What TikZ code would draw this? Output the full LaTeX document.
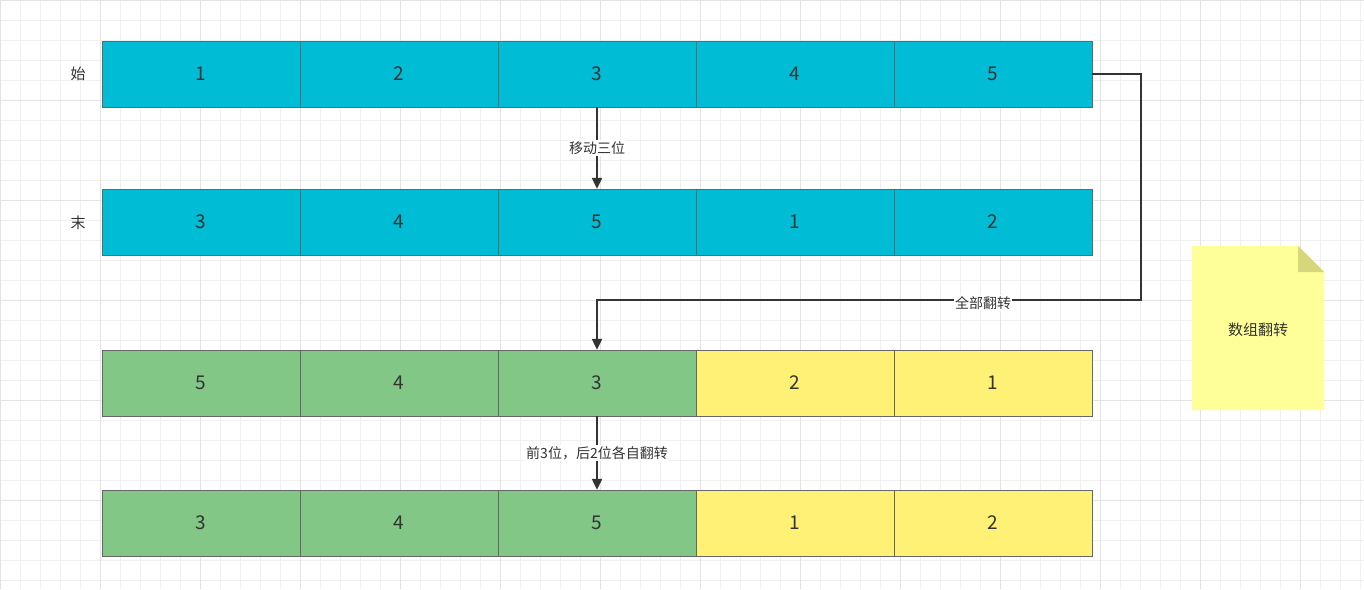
\documentclass[tikz,border=0pt]{standalone}
\usepackage{fontspec}
\setmainfont{Noto Sans CJK SC}
\usetikzlibrary{arrows.meta}
\definecolor{cy}{HTML}{00BCD4}
\definecolor{gr}{HTML}{82C785}
\definecolor{ye}{HTML}{FFF176}
\definecolor{nt}{HTML}{FFFF99}
\definecolor{ntd}{HTML}{D6D67A}
\definecolor{tx}{HTML}{333333}
\tikzset{cell/.style={draw=black!60,minimum width=198pt,minimum height=66pt,inner sep=0pt,font=\fontsize{19}{19}\selectfont,text=tx},
lbl/.style={fill=white,inner sep=1pt,font=\fontsize{14}{14}\selectfont,text=tx},
con/.style={draw=tx,line width=2.2pt,-{Triangle[length=11pt,width=10pt]}}}
\begin{document}
\begin{tikzpicture}[x=1pt,y=-1pt]
\fill[white](0,0)rectangle(1364,589);
\useasboundingbox(0,0)rectangle(1364,589);
\foreach \i in {0,...,68}{\draw[black!6,line width=0.6pt](\i*20,0)--(\i*20,589);}
\foreach \i in {0,...,29}{\draw[black!6,line width=0.6pt](0,\i*20)--(1364,\i*20);}
\foreach \i in {0,...,13}{\draw[black!11,line width=0.8pt](\i*100,0)--(\i*100,589);}
\foreach \i in {0,...,5}{\draw[black!11,line width=0.8pt](0,\i*100)--(1364,\i*100);}
% rows
\foreach \v [count=\k] in {1,2,3,4,5}{\node[cell,fill=cy](a\k) at (102+99+198*\k-198,74){\v};}
\foreach \v [count=\k] in {3,4,5,1,2}{\node[cell,fill=cy](b\k) at (102+99+198*\k-198,222){\v};}
\foreach \v/\c [count=\k] in {5/gr,4/gr,3/gr,2/ye,1/ye}{\node[cell,fill=\c](c\k) at (102+99+198*\k-198,383){\v};}
\foreach \v/\c [count=\k] in {3/gr,4/gr,5/gr,1/ye,2/ye}{\node[cell,fill=\c](d\k) at (102+99+198*\k-198,523){\v};}
\node[font=\fontsize{15}{15}\selectfont,text=tx](s) at (78,74){始};
\node[font=\fontsize{15}{15}\selectfont,text=tx](e) at (78,223){末};
\draw[con](a3.south)--(b3.north) node[midway,lbl]{移动三位};
\coordinate (t1) at (1141,74);
\coordinate (t2) at (1141,300);
\coordinate (t3) at (597,300);
\draw[con](a5.east)--(t1)--(t2)--(t3)--(c3.north);
\node[lbl] (l2) at (983,303){全部翻转};
\draw[con](c3.south)--(d3.north) node[midway,lbl]{前3位，后2位各自翻转};
% note
\fill[nt](1192,246)--(1298,246)--(1324,272)--(1324,410)--(1192,410)--cycle;
\fill[ntd](1298,246)--(1324,272)--(1298,272)--cycle;
\node[font=\fontsize{15}{15}\selectfont,text=tx](n) at (1258,330){数组翻转};
\end{tikzpicture}
\end{document}
